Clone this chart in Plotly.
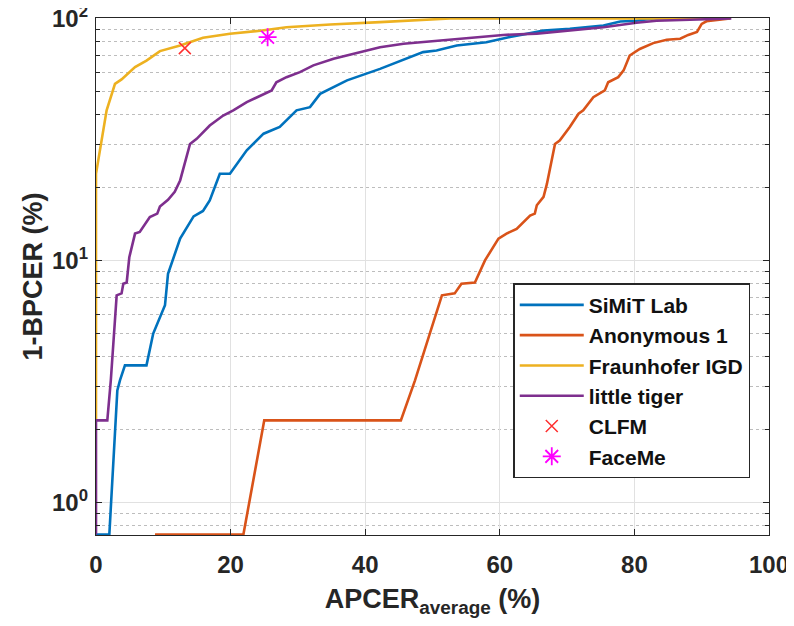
import plotly.graph_objects as go

# ---- data (APCER_average %, 1-BPCER %) ----
simit_x = [0, 1.98, 3.17, 3.57, 4.3, 7.5, 8.5, 10.25, 10.7, 11.5, 12.5, 14.5, 15.9, 16.9, 18.4, 19.9,
           22.4, 24.9, 27.3, 29.8, 31.8, 33.3, 37.3, 42.2, 48.6, 50.6, 53.6, 58, 61.5, 66.5, 70.4,
           75.4, 77.9, 80.3, 82.8, 94.2]
simit_y = [0.735, 0.735, 2.9, 3.2, 3.68, 3.68, 4.98, 6.52, 8.8, 10.3, 12.3, 15.2, 16, 17.7, 22.8, 22.8,
           28.5, 33.4, 35.6, 41.7, 43, 48.8, 55.5, 61.9, 72.6, 73.7, 77.3, 79.8, 83.8, 89.1, 90.6,
           93.5, 97.2, 97.8, 100, 100]

anon_x = [8.77, 21.9, 25.0, 45.3, 47.4, 51.4, 53.3, 54.3, 56.3, 57.8, 59.8, 61.0, 62.5, 64.5, 65.2,
          65.5, 66.5, 67.0, 68.2, 68.9, 70.4, 71.7, 72.4, 73.9, 75.6, 76.1, 77.6, 78.4, 79.3, 80.8,
          82.8, 84.8, 86.8, 88.0, 89.3, 90.0, 90.7, 94.2]
anon_y = [0.735, 0.735, 2.18, 2.18, 3.19, 7.17, 7.3, 8.0, 8.1, 10, 12.3, 12.9, 13.5, 15.3, 15.6,
          16.9, 18.3, 20.7, 30.3, 31.3, 35.6, 40.4, 41.7, 47.3, 50.4, 54.5, 57.2, 61, 70.3, 74.8,
          79.1, 81.7, 82.5, 85.5, 88, 95, 97.4, 100]

fraun_x = [0, 0, 1.58, 2.82, 3.8, 5.8, 7.5, 9.5, 12.5, 15.9, 19.9, 24.4, 28.3, 34.8, 42.2, 52.6, 94.2]
fraun_y = [2.2, 22.8, 41.7, 53.7, 56, 63, 67, 73.3, 77.3, 83.3, 86.5, 89, 92, 94.5, 96.6, 100, 100]

tiger_x = [0, 0, 1.68, 2.2, 3.07, 3.8, 4.06, 4.56, 4.95, 5.8, 6.5, 8.0, 9.1, 9.5, 10.7, 11.7, 12.5,
           13.5, 13.97, 14.96, 16.9, 18.9, 20.4, 22.4, 24.6, 26.1, 26.8, 28.3, 30.3, 32.3, 35.3,
           38.2, 42.2, 45.7, 53.1, 60.5, 65.5, 75.4, 80.3, 83.3, 94.4]
tiger_y = [0.735, 2.18, 2.18, 3.19, 7.17, 7.3, 8.0, 8.1, 10.3, 12.9, 13.1, 15.1, 15.6, 16.7, 17.8,
           19.2, 21.4, 26.7, 30.3, 31.8, 36.1, 39.7, 41.7, 45.1, 48.1, 50.4, 54.5, 57.2, 60, 64,
           68.1, 71.4, 76, 78.6, 81.7, 85.5, 86.6, 92, 96, 97.8, 100]

clfm_x = [13.2]
clfm_y = [75.4]
faceme_x = [25.5]
faceme_y = [83.7]

x_ticks = [0, 20, 40, 60, 80, 100]
y_ticks = [1, 10, 100]
y_ticktext = ["10<sup>0</sup>", "10<sup>1</sup>", "10<sup>2</sup>"]
y_minor = [0.8, 0.9, 2, 3, 4, 5, 6, 7, 8, 9, 20, 30, 40, 50, 60, 70, 80, 90]

FONT = "Liberation Sans, Arial, Helvetica, sans-serif"
AX = "#262626"

fig = go.Figure()
LW = 2.6
fig.add_trace(go.Scatter(x=simit_x, y=simit_y, mode="lines", name="SiMiT Lab",
                         line=dict(color="#0072BD", width=LW)))
fig.add_trace(go.Scatter(x=anon_x, y=anon_y, mode="lines", name="Anonymous 1",
                         line=dict(color="#D95319", width=LW)))
fig.add_trace(go.Scatter(x=fraun_x, y=fraun_y, mode="lines", name="Fraunhofer IGD",
                         line=dict(color="#EDB120", width=LW)))
fig.add_trace(go.Scatter(x=tiger_x, y=tiger_y, mode="lines", name="little tiger",
                         line=dict(color="#7E2F8E", width=LW)))
fig.add_trace(go.Scatter(x=clfm_x, y=clfm_y, mode="markers", name="CLFM",
                         marker=dict(symbol="x-thin-open", size=12, color="#FF3030",
                                     line=dict(width=1.5, color="#FF3030"))))
fig.add_trace(go.Scatter(x=faceme_x, y=faceme_y, mode="markers", name="FaceMe",
                         marker=dict(symbol="asterisk-open", size=15, color="#FF00FF",
                                     line=dict(width=1.8, color="#FF00FF"))))

fig.update_layout(
    width=786, height=618,
    margin=dict(l=88, r=25, t=10, b=91, autoexpand=False),
    paper_bgcolor="white", plot_bgcolor="white",
    font=dict(family=FONT, color=AX, size=22, weight="bold"),
    showlegend=True,
    legend=dict(x=0.62, y=0.487, xanchor="left", yanchor="top",
                bgcolor="white", bordercolor=AX, borderwidth=1.5,
                font=dict(family=FONT, size=21, color="#111111", weight="bold"),
                itemwidth=64, tracegroupgap=0),
)

fig.update_xaxes(
    automargin=False, ticklabeloverflow="allow",
    range=[0, 100], tickvals=x_ticks, ticktext=[str(v) for v in x_ticks],
    showline=True, linecolor=AX, linewidth=1.3, mirror="ticks",
    ticks="inside", ticklen=6, tickcolor=AX, tickwidth=1.3, ticklabelstandoff=8,
    showgrid=True, gridcolor="#e1e1e1", gridwidth=1, zeroline=False,
    tickfont=dict(family=FONT, size=24, color=AX, weight="bold"),
    title=dict(text="APCER<sub>average</sub> (%)", standoff=12,
               font=dict(family=FONT, size=27, color=AX, weight="bold")),
)
fig.update_yaxes(
    automargin=False, ticklabeloverflow="allow",
    type="log", range=[-0.1355, 2.002], tickvals=y_ticks, ticktext=y_ticktext,
    showline=True, linecolor=AX, linewidth=1.3, mirror="ticks",
    ticks="inside", ticklen=6, tickcolor=AX, tickwidth=1.3, ticklabelstandoff=2,
    showgrid=True, gridcolor="#e1e1e1", gridwidth=1, zeroline=False,
    tickfont=dict(family=FONT, size=24, color=AX, weight="bold"),
    minor=dict(tickvals=y_minor, ticks="inside", ticklen=4, tickcolor=AX,
               showgrid=True, gridcolor="#bdbdbd", griddash="dot", gridwidth=1),
    title=dict(text="1-BPCER (%)", standoff=1,
               font=dict(family=FONT, size=27, color=AX, weight="bold")),
)

fig.write_html("out.html")
